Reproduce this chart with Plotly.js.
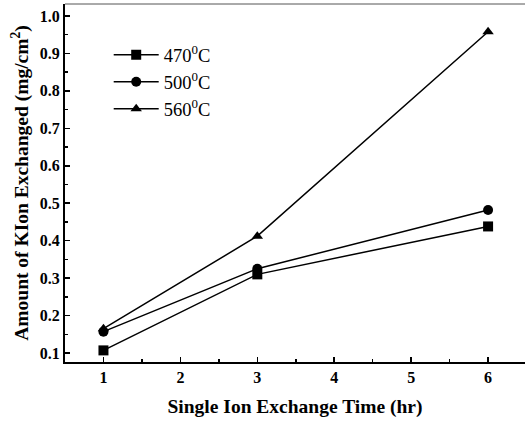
<!DOCTYPE html>
<html><head><meta charset="utf-8">
<script src="https://cdn.plot.ly/plotly-3.0.1.min.js"></script>
<style>body{margin:0;background:#fff}#c{width:526px;height:423px}</style>
</head><body><div id="c"></div>
<script>
const times = [1, 3, 6];
const s470 = [0.107, 0.31, 0.438];
const s500 = [0.157, 0.325, 0.482];
const s560 = [0.165, 0.412, 0.958];
const names = ['470<sup>0</sup>C', '500<sup>0</sup>C', '560<sup>0</sup>C'];
const xTicks = [1, 2, 3, 4, 5, 6];
const yTicks = [0.1, 0.2, 0.3, 0.4, 0.5, 0.6, 0.7, 0.8, 0.9, 1.0];

const mk = (y, name, sym) => ({
  x: times, y: y, name: name, type: 'scatter', mode: 'lines+markers',
  line: {color: '#000', width: 1.5},
  marker: {symbol: sym, size: 10, color: '#000'}
});
const data = [mk(s470, names[0], 'square'), mk(s500, names[1], 'circle'), mk(s560, names[2], 'triangle-up')];
const fam = 'Liberation Serif, Times New Roman, serif';
const layout = {
  width: 526, height: 423,
  margin: {l: 65, r: 1, t: 4, b: 61},
  paper_bgcolor: '#fff', plot_bgcolor: '#fff',
  font: {family: fam, color: '#000'},
  showlegend: true,
  legend: {x: 0.095, y: 0.91, xanchor: 'left', yanchor: 'top', bgcolor: 'rgba(0,0,0,0)',
           font: {family: fam, size: 18.5, color: '#000'}, tracegroupgap: 0, itemwidth: 45},
  xaxis: {
    range: [0.5, 6.48], tickvals: xTicks, ticktext: xTicks.map(v => '<b>' + v + '</b>'),
    ticks: 'inside', ticklen: 5, tickwidth: 1.5, tickcolor: '#000',
    minor: {dtick: 0.5, tick0: 0.5, ticks: 'inside', ticklen: 3, tickcolor: '#000'},
    showline: true, linewidth: 2, linecolor: '#000', showgrid: false, zeroline: false,
    tickfont: {family: fam, size: 16, color: '#000'},
    title: {text: '<b>Single Ion Exchange Time (hr)</b>', font: {family: fam, size: 19.5, color: '#000'}, standoff: 14}
  },
  yaxis: {
    range: [0.076, 1.032], tickvals: yTicks, ticktext: yTicks.map(v => '<b>' + v.toFixed(1) + '</b>'),
    ticks: 'inside', ticklen: 5, tickwidth: 1.5, tickcolor: '#000',
    minor: {dtick: 0.05, tick0: 0.05, ticks: 'inside', ticklen: 3, tickcolor: '#000'},
    showline: true, linewidth: 2, linecolor: '#000', showgrid: false, zeroline: false,
    tickfont: {family: fam, size: 16, color: '#000'},
    title: {text: '<b>Amount of KIon Exchanged (mg/cm<sup>2</sup>)</b>', font: {family: fam, size: 19.5, color: '#000'}, standoff: 6}
  },
  shapes: [{type: 'line', xref: 'paper', yref: 'paper', x0: 0, x1: 1, y0: 1, y1: 1, line: {color: '#555', width: 1}}]
};
Plotly.newPlot('c', data, layout, {displayModeBar: false, staticPlot: true});
</script></body></html>
